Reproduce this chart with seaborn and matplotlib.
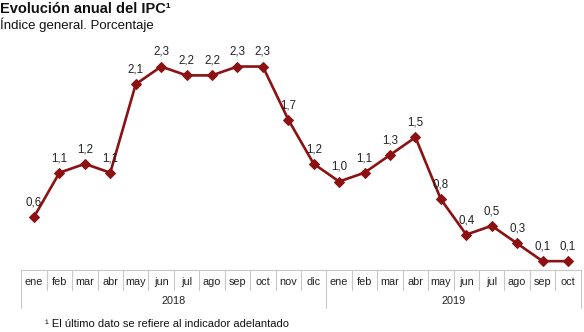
import matplotlib
matplotlib.use("Agg")
import matplotlib.pyplot as plt
import seaborn as sns
import pandas as pd
from matplotlib.transforms import blended_transform_factory

months = ["ene", "feb", "mar", "abr", "may", "jun", "jul", "ago", "sep", "oct", "nov", "dic",
          "ene", "feb", "mar", "abr", "may", "jun", "jul", "ago", "sep", "oct"]
years = ["2018"] * 12 + ["2019"] * 10
values = [0.6, 1.1, 1.2, 1.1, 2.1, 2.3, 2.2, 2.2, 2.3, 2.3, 1.7, 1.2,
          1.0, 1.1, 1.3, 1.5, 0.8, 0.4, 0.5, 0.3, 0.1, 0.1]

title = "Evolución anual del IPC\u00b9"
subtitle = "Índice general. Porcentaje"
footnote = "\u00b9 El último dato se refiere al indicador adelantado"

sns.set_style("white")
plt.rcParams["font.family"] = ["Liberation Sans", "DejaVu Sans"]

df = pd.DataFrame({"idx": range(len(values)), "mes": months, "anio": years, "ipc": values})

color = "#8B1113"
fig = plt.figure(figsize=(5.84, 3.32), dpi=100)
ax = fig.add_axes([21.3 / 584, 62 / 332, 559.4 / 584, 230 / 332])

sns.lineplot(data=df, x="idx", y="ipc", ax=ax, color=color, linewidth=1.9,
             marker="D", markersize=5, markeredgecolor=color, markerfacecolor=color)

for i, v in zip(df["idx"], df["ipc"]):
    ax.annotate(f"{v:.1f}".replace(".", ","), (i, v), xytext=(0, 10.5),
                textcoords="offset points", ha="center", va="center", fontsize=8.3, color="#222222")

ax.set_xlim(-0.5, len(values) - 0.5)
ax.set_ylim(0, 2.6)
ax.set_xticks([])
ax.set_yticks([])
ax.set_xlabel("")
ax.set_ylabel("")
for s in ax.spines.values():
    s.set_visible(False)

tr = blended_transform_factory(ax.transData, ax.transAxes)
grid = "#c8c8c8"
row1 = -20 / 230
row2 = -38 / 230
ax.plot([-0.5, len(values) - 0.5], [0, 0], transform=tr, color=grid, lw=0.8, clip_on=False)
for i, m in enumerate(months):
    ax.text(i, -12 / 230, m, transform=tr, ha="center", va="center", fontsize=7.8, color="#222222")
for b in range(len(values) + 1):
    edge = b - 0.5
    is_year_edge = b == 0 or b == len(values) or years[b] != years[b - 1]
    bottom = row2 if is_year_edge else row1
    ax.plot([edge, edge], [0, bottom], transform=tr, color=grid, lw=0.8, clip_on=False)
for y in dict.fromkeys(years):
    idxs = [i for i, yy in enumerate(years) if yy == y]
    center = (idxs[0] + idxs[-1]) / 2
    ax.text(center, -31 / 230, y, transform=tr, ha="center", va="center", fontsize=7.8, color="#222222")

fig.text(0.0, 1 - 9 / 332, title, ha="left", va="center", fontsize=10.5, fontweight="bold", color="#111111")
fig.text(0.0, 1 - 25 / 332, subtitle, ha="left", va="center", fontsize=9.5, color="#111111")
fig.text(45 / 584, 1 - 324 / 332, footnote, ha="left", va="center", fontsize=8, color="#111111")

fig.savefig("out.png", dpi=100)
